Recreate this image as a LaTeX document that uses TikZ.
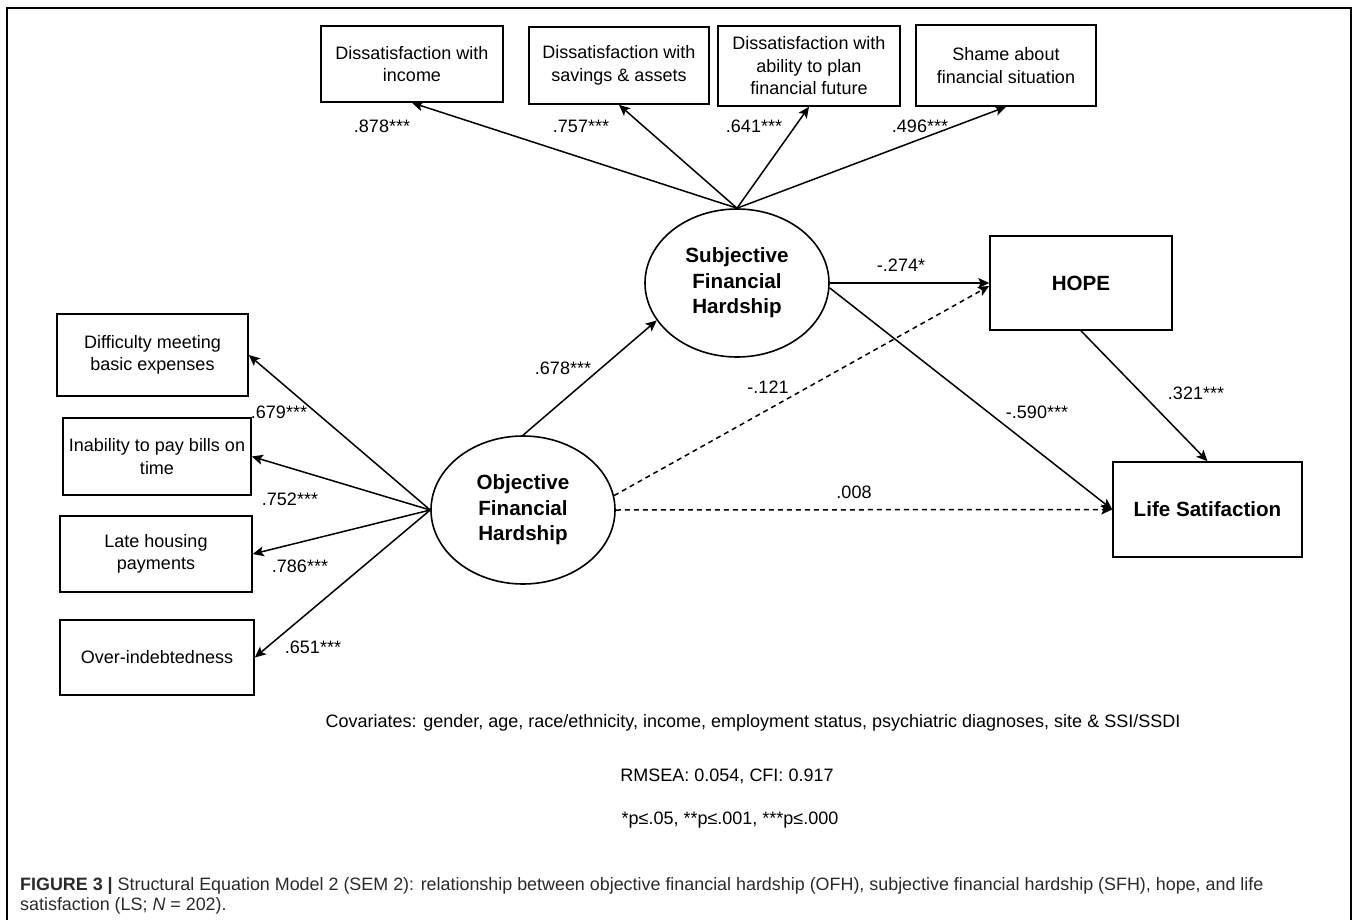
\documentclass[tikz,border=0pt]{standalone}
\usepackage{fontspec}
\setmainfont{Liberation Sans}
\usetikzlibrary{arrows.meta,shapes.geometric,calc}
\definecolor{captgray}{HTML}{2A2A2A}
\begin{document}
\begin{tikzpicture}[x=1pt,y=-1pt,
  box/.style={draw, line width=1.6pt, rectangle, align=center, inner sep=0pt, font=\fontsize{18}{22.5}\selectfont},
  lat/.style={draw, line width=1.6pt, ellipse, align=center, inner sep=0pt, minimum width=184pt, minimum height=148pt, font=\fontsize{20.6}{25.5}\selectfont\bfseries},
  bbox/.style={box, font=\fontsize{20.6}{25.5}\selectfont\bfseries},
  arr/.style={line width=1.5pt, -{Stealth[length=11pt,width=10pt,inset=2.5pt]}},
  dsh/.style={arr, dash pattern=on 5pt off 4pt},
  lbl/.style={inner sep=0pt, font=\fontsize{18}{18}\selectfont},
  note/.style={inner sep=0pt, font=\fontsize{18}{18}\selectfont},
  captxt/.style={anchor=west, inner sep=0pt, text=captgray, font=\fontsize{17.9}{20}\selectfont}
]
\useasboundingbox (0,0) rectangle (1357,920);
\fill[white] (0,0) rectangle (1357,920);
\draw[line width=1.2pt] (7,920) -- (7,8) -- (1351,8) -- (1351,920);

% top indicator boxes
\node[box, minimum width=182pt, minimum height=76pt] (inc) at (412,64) {Dissatisfaction with\\income};
\node[box, minimum width=180pt, minimum height=77pt] (sav) at (619,65.5) {Dissatisfaction with\\savings \& assets};
\node[box, minimum width=182pt, minimum height=80pt] (plan) at (809,66) {Dissatisfaction with\\ability to plan\\financial future};
\node[box, minimum width=180pt, minimum height=81pt] (shame) at (1006,65.5) {Shame about\\financial situation};

% left indicator boxes
\node[box, minimum width=191pt, minimum height=82pt] (diff) at (152.5,355) {Difficulty meeting\\basic expenses};
\node[box, minimum width=188pt, minimum height=77pt] (inab) at (157,456.5) {Inability to pay bills on\\time};
\node[box, minimum width=192pt, minimum height=76pt] (late) at (156,554) {Late housing\\payments};
\node[box, minimum width=194pt, minimum height=75pt] (over) at (157,657.5) {Over-indebtedness};

% latent variables
\node[lat] (sfh) at (737,283) {Subjective\\Financial\\Hardship};
\node[lat] (ofh) at (523,510) {Objective\\Financial\\Hardship};

% outcomes
\node[bbox, minimum width=182pt, minimum height=94pt] (hope) at (1081,283) {HOPE};
\node[bbox, minimum width=189pt, minimum height=95pt] (ls) at (1207.5,509.5) {Life Satifaction};

% loadings SFH
\draw[arr] (sfh.north) -- (inc.south);
\draw[arr] (sfh.north) -- (sav.south);
\draw[arr] (sfh.north) -- (plan.south);
\draw[arr] (sfh.north) -- (shame.south);

% loadings OFH
\draw[arr] (ofh.west) -- (diff.east);
\draw[arr] (ofh.west) -- (inab.east);
\draw[arr] (ofh.west) -- (late.east);
\draw[arr] (ofh.west) -- (over.east);

% structural paths
\draw[arr] (ofh.north) -- (sfh.205);
\draw[arr] (sfh.east) -- (hope.west);
\draw[arr] (sfh.-3) -- (ls.west);
\draw[dsh] (ofh.9) -- ($(hope.west)+(0,3)$);
\draw[dsh] (ofh.east) -- (ls.west);
\draw[arr] (hope.south) -- (ls.north);

% labels
\node[lbl] (l1) at (382,126) {.878***};
\node[lbl] (l2) at (581,126) {.757***};
\node[lbl] (l3) at (754,126) {.641***};
\node[lbl] (l4) at (920,126) {.496***};
\node[lbl] (l5) at (279,412) {.679***};
\node[lbl] (l6) at (290,499) {.752***};
\node[lbl] (l7) at (300,566) {.786***};
\node[lbl] (l8) at (313,647) {.651***};
\node[lbl] (l9) at (563,368) {.678***};
\node[lbl] (l10) at (768,387) {-.121};
\node[lbl] (l11) at (854,492) {.008};
\node[lbl] (l12) at (901,265) {-.274*};
\node[lbl] (l13) at (1037,412) {-.590***};
\node[lbl] (l14) at (1196,393) {.321***};

% notes
\node[note] (cov) at (753,723) {Covariates: gender, age, race/ethnicity, income, employment status, psychiatric diagnoses, site \& SSI/SSDI};
\node[note] (fit) at (727,776) {RMSEA: 0.054, CFI: 0.917};
\node[note] (sig) at (730,820) {*p≤.05, **p≤.001, ***p≤.000};

% caption
\node[captxt] (cap1) at (20,886) {\textbf{FIGURE 3 |} Structural Equation Model 2 (SEM 2): relationship between objective financial hardship (OFH), subjective financial hardship (SFH), hope, and life};
\node[captxt] (cap2) at (20,906) {satisfaction (LS; \textit{N} = 202).};
\end{tikzpicture}
\end{document}
